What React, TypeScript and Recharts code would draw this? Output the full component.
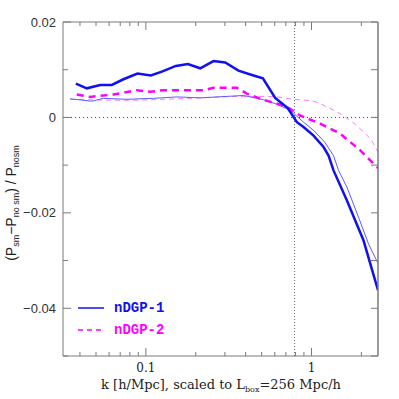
import React from 'react';
import { LineChart, Line, XAxis, YAxis, ReferenceLine, Label } from 'recharts';

// nDGP-1 simulation (thick blue)
const kSim1 = [0.0378, 0.044, 0.053, 0.0623, 0.0732, 0.089, 0.1072, 0.1249, 0.1518, 0.1793, 0.2128, 0.256, 0.3012, 0.3623, 0.4367, 0.5087, 0.6036, 0.7164, 0.816, 0.895, 1.029, 1.182, 1.267, 1.358, 1.636, 2.061, 2.52];
const vSim1 = [0.0071, 0.0061, 0.0068, 0.0068, 0.008, 0.0092, 0.0088, 0.0096, 0.0108, 0.0112, 0.0103, 0.0118, 0.0115, 0.0098, 0.0089, 0.0082, 0.0041, 0.002, -0.001, -0.002, -0.0038, -0.0062, -0.008, -0.0111, -0.0174, -0.0258, -0.0362];

// nDGP-1 thin (blue)
const kThin1 = [0.0349, 0.0472, 0.0554, 0.0768, 0.1111, 0.1539, 0.2128, 0.3886, 0.513, 0.6036, 0.7437, 0.895, 1.029, 1.203, 1.358, 1.456, 1.636, 1.922, 2.209, 2.52];
const vThin1 = [0.0039, 0.0034, 0.004, 0.0038, 0.004, 0.0043, 0.0041, 0.0046, 0.0037, 0.0029, 0.0015, -0.001, -0.0027, -0.0052, -0.008, -0.0111, -0.0146, -0.0209, -0.0265, -0.0306];

// nDGP-2 simulation (thick magenta dashed)
const kSim2 = [0.0383, 0.0461, 0.0637, 0.0882, 0.1062, 0.1278, 0.1851, 0.225, 0.256, 0.3543, 0.4073, 0.513, 0.6775, 0.7437, 0.8546, 1.129, 1.49, 1.968, 2.262, 2.52];
const vSim2 = [0.0048, 0.0043, 0.0048, 0.0057, 0.0054, 0.0057, 0.0057, 0.0057, 0.0062, 0.0062, 0.005, 0.0037, 0.0025, 0.0018, 0.0004, -0.0013, -0.0034, -0.0069, -0.009, -0.0106];

// nDGP-2 thin (magenta dashed)
const kThin2 = [0.0349, 0.0768, 0.1539, 0.3886, 0.563, 0.7787, 1.018, 1.239, 1.597, 1.968, 2.368, 2.52];
const vThin2 = [0.0038, 0.0036, 0.0039, 0.0044, 0.0044, 0.0038, 0.0034, 0.0022, 0.0001, -0.0024, -0.0055, -0.0073];

const xTicks = [0.04, 0.05, 0.06, 0.07, 0.08, 0.09, 0.1, 0.2, 0.3, 0.4, 0.5, 0.6, 0.7, 0.8, 0.9, 1, 2];
const xLabeled = [0.1, 1];
const yTicks = [-0.05, -0.04, -0.03, -0.02, -0.01, 0, 0.01, 0.02];
const yLabeled = [0.02, 0, -0.02, -0.04];
const kNonlinear = 0.79;
const legendNames = ['nDGP-1', 'nDGP-2'];

const series = (ks: number[], vs: number[]) => ks.map((k, i) => ({ k, v: vs[i] }));
const sim1 = series(kSim1, vSim1);
const thin1 = series(kThin1, vThin1);
const sim2 = series(kSim2, vSim2);
const thin2 = series(kThin2, vThin2);

const FRAME = '#7a7a7a';
const BLUE = '#1010f0';
const BLUE_THIN = '#5c5cff';
const MAG = '#ff00ff';
const MAG_THIN = '#ff77ff';

const isIn = (arr: number[], v: number) => arr.some((a) => Math.abs(a - v) < 1e-9);
const fmtY = (v: number) => (Math.abs(v) < 1e-12 ? '0' : v < 0 ? '\u2212' + Math.abs(v).toFixed(2) : v.toFixed(2));

const BottomTick = (p: any) => {
  const major = isIn(xLabeled, p.payload.value);
  return (
    <g>
      <line x1={p.x} x2={p.x} y1={p.y} y2={p.y - (major ? 8 : 4)} stroke={FRAME} />
      {major && (
        <text x={p.x} y={p.y + 16} textAnchor="middle" fontFamily="DejaVu Serif" fontSize={12} fill="#222">
          {String(p.payload.value)}
        </text>
      )}
    </g>
  );
};
const TopTick = (p: any) => {
  const major = isIn(xLabeled, p.payload.value);
  return <line x1={p.x} x2={p.x} y1={p.y} y2={p.y + (major ? 8 : 4)} stroke={FRAME} />;
};
const LeftTick = (p: any) => {
  const major = isIn(yLabeled, p.payload.value);
  return (
    <g>
      <line x1={p.x} x2={p.x + (major ? 8 : 5)} y1={p.y} y2={p.y} stroke={FRAME} />
      {major && (
        <text x={p.x - 7} y={p.y + 4.5} textAnchor="end" fontFamily="Liberation Sans" fontSize={13} fill="#333">
          {fmtY(p.payload.value)}
        </text>
      )}
    </g>
  );
};
const RightTick = (p: any) => <line x1={p.x} x2={p.x - 7} y1={p.y} y2={p.y} stroke={FRAME} />;

const YTitle = () => (
  <text transform="translate(16,203) rotate(-90)" textAnchor="middle" fontFamily="Liberation Sans" fontSize={14} fill="#222">
    (P<tspan fontSize={9} dy={3}>sm</tspan>
    <tspan dy={-3}>{'\u2212'}P</tspan>
    <tspan fontSize={9} dy={3}>no sm</tspan>
    <tspan dy={-3}>) / P</tspan>
    <tspan fontSize={9} dy={3}>nosm</tspan>
  </text>
);
const XTitle = () => (
  <text x={221} y={389} textAnchor="middle" fontFamily="DejaVu Serif" fontSize={13} fill="#222">
    k [h/Mpc], scaled to L<tspan fontSize={8} dy={3}>box</tspan>
    <tspan dy={-3}>=256 Mpc/h</tspan>
  </text>
);

const LegendBox = () => (
  <div style={{ position: 'absolute', left: 78, top: 297, fontFamily: 'Liberation Mono', fontSize: 14, fontWeight: 'bold' }}>
    {legendNames.map((name, i) => (
      <div key={name} style={{ display: 'flex', alignItems: 'center', height: 22 }}>
        <svg width={26} height={4}>
          <line x1={0} x2={26} y1={2} y2={2} stroke={i === 0 ? BLUE : MAG} strokeWidth={1.5} strokeDasharray={i === 0 ? undefined : '5 4'} />
        </svg>
        <span style={{ marginLeft: 10, color: i === 0 ? BLUE : MAG }}>{name}</span>
      </div>
    ))}
  </div>
);

export default function App() {
  return (
    <div style={{ position: 'absolute', left: 0, top: 0, width: 399, height: 399, background: '#fff' }}>
      <LineChart width={399} height={399} margin={{ top: 17, right: 16, bottom: 5, left: 10 }}>
        <XAxis
          xAxisId="b"
          dataKey="k"
          type="number"
          scale="log"
          domain={[0.0316, 2.52]}
          allowDataOverflow
          ticks={xTicks}
          interval={0}
          tickSize={0}
          tickMargin={0}
          tickLine={false}
          tick={<BottomTick />}
          height={38}
          stroke={FRAME}
        >
          <Label content={<XTitle />} />
        </XAxis>
        <XAxis
          xAxisId="t"
          orientation="top"
          dataKey="k"
          type="number"
          scale="log"
          domain={[0.0316, 2.52]}
          allowDataOverflow
          ticks={xTicks}
          interval={0}
          tickSize={0}
          tickMargin={0}
          tickLine={false}
          tick={<TopTick />}
          height={5}
          stroke={FRAME}
        />
        <YAxis
          yAxisId="l"
          type="number"
          domain={[-0.05, 0.02]}
          allowDataOverflow
          ticks={yTicks}
          interval={0}
          tickSize={0}
          tickMargin={0}
          tickLine={false}
          tick={<LeftTick />}
          width={53}
          stroke={FRAME}
        >
          <Label content={<YTitle />} />
        </YAxis>
        <YAxis
          yAxisId="r"
          orientation="right"
          type="number"
          domain={[-0.05, 0.02]}
          allowDataOverflow
          ticks={yTicks}
          interval={0}
          tickSize={0}
          tickMargin={0}
          tickLine={false}
          tick={<RightTick />}
          width={5}
          stroke={FRAME}
          strokeWidth={1.5}
        />
        <ReferenceLine xAxisId="b" yAxisId="l" y={0} stroke="#444" strokeDasharray="1 3" />
        <ReferenceLine xAxisId="b" yAxisId="l" x={kNonlinear} stroke="#666" strokeDasharray="1 2" />
        <Line xAxisId="b" yAxisId="l" data={thin2} dataKey="v" type="monotone" stroke={MAG_THIN} strokeWidth={1} strokeDasharray="5 4" dot={false} isAnimationActive={false} />
        <Line xAxisId="b" yAxisId="l" data={thin1} dataKey="v" type="linear" stroke={BLUE_THIN} strokeWidth={1} dot={false} isAnimationActive={false} />
        <Line xAxisId="b" yAxisId="l" data={sim2} dataKey="v" type="linear" stroke={MAG} strokeWidth={2.5} strokeDasharray="7 5" dot={false} isAnimationActive={false} />
        <Line xAxisId="b" yAxisId="l" data={sim1} dataKey="v" type="linear" stroke={BLUE} strokeWidth={2.5} dot={false} isAnimationActive={false} />
      </LineChart>
      <LegendBox />
    </div>
  );
}
